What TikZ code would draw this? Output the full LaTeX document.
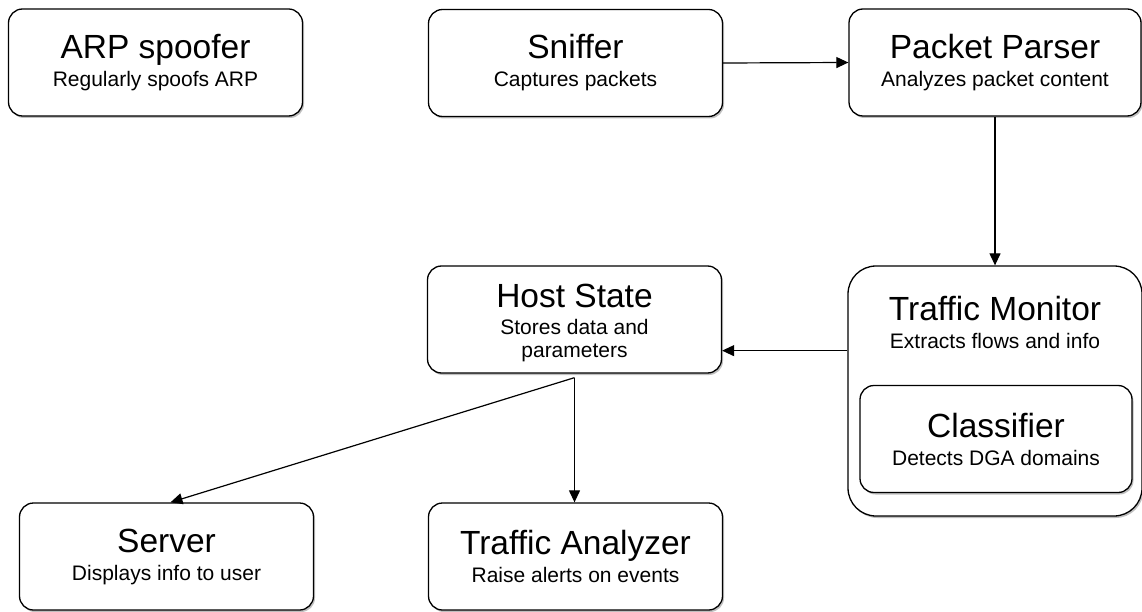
\documentclass[tikz,border=0pt]{standalone}
\usepackage{fontspec}
\setmainfont{Liberation Sans}
\usetikzlibrary{arrows.meta,shadows,calc}
\newcommand{\titlesize}{\fontsize{33.5}{38}\selectfont}
\newcommand{\subsize}{\fontsize{21}{23}\selectfont}

\begin{document}
\begin{tikzpicture}[x=1pt,y=1pt]
    \tikzset{module/.style={draw, line width=1.3pt, rounded corners=14pt, fill=white,
        drop shadow={shadow xshift=1.5pt, shadow yshift=-2pt, fill=black!25, opacity=1},
        minimum width=294pt, minimum height=107pt, align=center, font=\subsize, inner sep=0pt,
        yshift=0pt},
      flow/.style={-{Triangle[length=12pt,width=11pt]}, line width=1.2pt}}
    \useasboundingbox (0,0) rectangle (1142,-612);

    % top row
    \node[module] (arp) at (155.5,-62.5) {{\titlesize ARP spoofer}\\[5pt]Regularly spoofs ARP};
    \node[module] (sniffer) at (575.5,-63) {{\titlesize Sniffer}\\[5pt]Captures packets};
    \node[module, minimum width=292pt] (parser) at (995,-62.5) {{\titlesize Packet Parser}\\[5pt]Analyzes packet content};

    % middle
    \node[module] (host) at (574.5,-319.5) {{\titlesize\rule{0pt}{30pt}Host State}\\[4pt]Stores data and\\parameters};
    \node[module, minimum height=250pt, rounded corners=28pt] (monitor) at (995,-391) {};
    \node[align=center, font=\subsize, inner sep=0pt] (monitortext) at (995,-322) {{\titlesize Traffic Monitor}\\[5pt]Extracts flows and info};
    \node[module, minimum width=272pt] (classifier) at (996,-439) {{\titlesize Classifier}\\[5pt]Detects DGA domains};

    % bottom row
    \node[module] (server) at (166.5,-556.5) {{\titlesize Server}\\[5pt]Displays info to user};
    \node[module] (analyzer) at (575.5,-556.5) {{\titlesize Traffic Analyzer}\\[5pt]Raise alerts on events};

    \coordinate (split) at ($(host.south)+(0,-4)$);
    \coordinate (back) at ($(host.south east)+(0,23)$);

    \draw[flow] (sniffer.east) -- (parser.west);
    \draw[flow] (parser.south) -- (monitor.north);
    \draw[flow] (monitor.west |- back) -- (back);
    \draw[flow] (split) -- ($(server.north)+(4,0)$);
    \draw[flow] (split) -- (analyzer.north -| split);
\end{tikzpicture}
\end{document}
